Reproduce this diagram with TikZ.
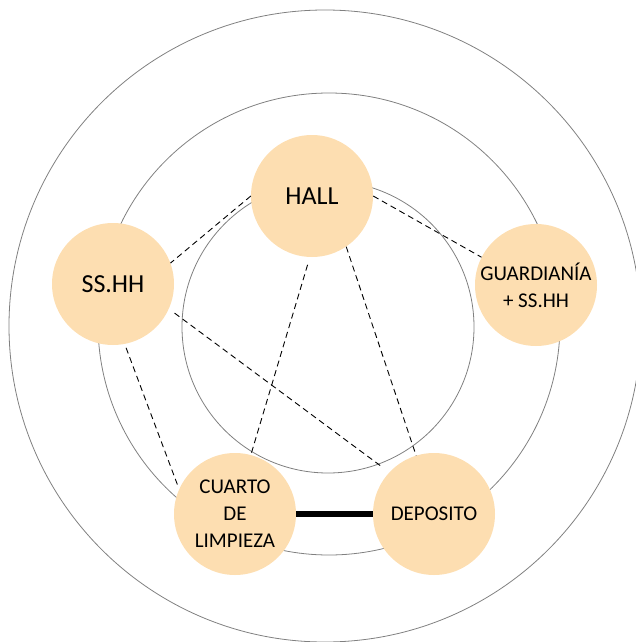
\documentclass[tikz,border=0pt]{standalone}
\usepackage{fontspec}
\setmainfont{Carlito}
\usetikzlibrary{calc,positioning}
\definecolor{peach}{HTML}{FDDEB1}
\definecolor{ringgray}{HTML}{808080}

\begin{document}
\begin{tikzpicture}[x=1pt,y=-1pt,
  room/.style={circle,fill=peach,minimum size=122pt,inner sep=0pt,align=center},
  big/.style={font=\fontsize{26}{31}\selectfont},
  small/.style={font=\fontsize{21}{27}\selectfont},
  ring/.style={draw=ringgray,line width=0.8pt},
  link/.style={line width=0.9pt,dash pattern=on 6pt off 4pt},
  wall/.style={line width=6pt}]
  \useasboundingbox (0,0) rectangle (635,642);
  % zoning rings
  \draw[ring] (325,326) circle (316);
  \draw[ring] (329,324) circle (231);
  \draw[ring] (328,327) circle (146);
  % rooms
  \node[room,big] (hall) at (312,196) {HALL};
  \node[room,big] (ssh) at (113,284) {SS.HH};
  \node[room,small] (guard) at (536,285) {GUARDIANÍA\\+ SS.HH};
  \node[room,small] (cuarto) at (235,514) {CUARTO\\DE\\LIMPIEZA};
  \node[room,small] (dep) at (434,514) {DEPOSITO};
  % relations
  \draw[link] (hall.180) -- (ssh.20);
  \draw[link] (hall.0) -- (guard.153);
  \draw[link,shorten <=8pt] (hall.-92) -- (cuarto.75);
  \draw[link] (hall.-56) -- (dep.107);
  \draw[link,shorten <=7pt,shorten >=8pt] (ssh.-24) -- (dep.137);
  \draw[link,shorten <=4pt,shorten >=4pt] (ssh.-79) -- (cuarto.156);
  \draw[wall] (cuarto.east) -- (dep.west);
\end{tikzpicture}
\end{document}
